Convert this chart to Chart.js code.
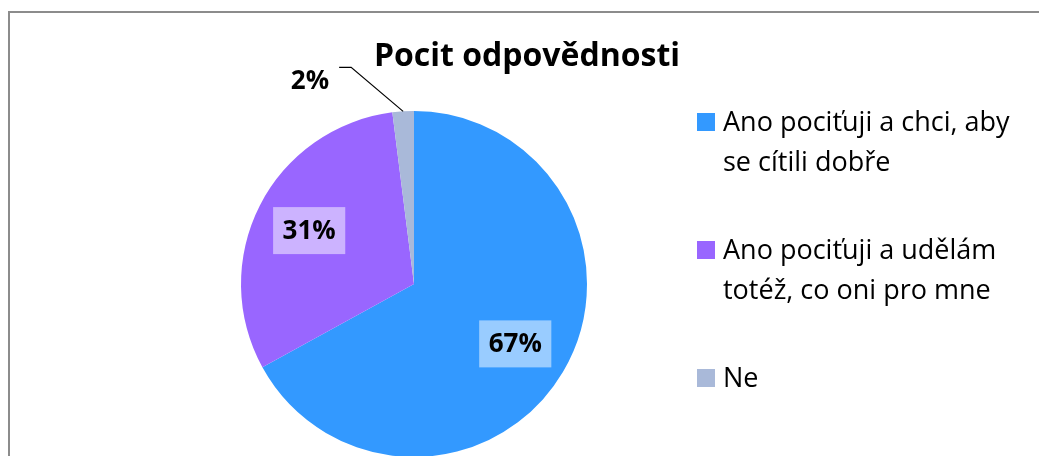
<!DOCTYPE html>
<html>
<head>
<meta charset="utf-8">
<script src="https://cdn.jsdelivr.net/npm/chart.js@4"></script>
<style>
  html, body { margin: 0; padding: 0; background: #fff; }
  #wrap { width: 1039px; height: 456px; position: relative; }
</style>
</head>
<body>
<div id="wrap"><canvas id="pie" width="1039" height="456"></canvas></div>
<script>
const TITLE = "Pocit odpovědnosti";
const CATEGORIES = ["Ano pociťuji a chci, aby se cítili dobře", "Ano pociťuji a udělám totéž, co oni pro mne", "Ne"];
const VALUES = [67, 31, 2];
const COLORS = ["#3399ff", "#9966ff", "#a9b9d9"];
const LABEL_BOXES = ["#99ccff", "#ccb3ff", null];

const FONT = "'Open Sans', Lato, sans-serif";

function wrapText(ctx, text, maxWidth) {
  const words = text.split(" ");
  const lines = [];
  let line = "";
  for (const w of words) {
    const test = line ? line + " " + w : w;
    if (line && ctx.measureText(test).width > maxWidth) {
      lines.push(line);
      line = w;
    } else {
      line = test;
    }
  }
  if (line) lines.push(line);
  return lines;
}

// frame, title, value labels and the wrapped legend are all painted here
const decorations = {
  id: "decorations",
  beforeDraw(chart) {
    const ctx = chart.ctx;
    ctx.save();
    ctx.strokeStyle = "#8c8c8c";
    ctx.lineWidth = 2;
    ctx.strokeRect(9, 12, 1100, 500);
    ctx.restore();
  },
  afterDraw(chart) {
    const ctx = chart.ctx;
    const meta = chart.getDatasetMeta(0);
    const total = VALUES.reduce((a, b) => a + b, 0);
    ctx.save();

    ctx.fillStyle = "#000";
    ctx.font = `bold 32px ${FONT}`;
    ctx.textAlign = "center";
    ctx.textBaseline = "middle";
    ctx.fillText(TITLE, 527, 57);

    ctx.font = `bold 26px ${FONT}`;
    meta.data.forEach((arc, i) => {
      const text = Math.round(VALUES[i] / total * 100) + "%";
      const mid = (arc.startAngle + arc.endAngle) / 2;
      if (LABEL_BOXES[i]) {
        const r = arc.outerRadius * 0.68;
        const x = arc.x + Math.cos(mid) * r;
        const y = arc.y + Math.sin(mid) * r;
        const w = ctx.measureText(text).width + 19;
        ctx.fillStyle = LABEL_BOXES[i];
        ctx.fillRect(x - w / 2, y - 23.5, w, 47);
        ctx.fillStyle = "#000";
        ctx.textAlign = "center";
        ctx.fillText(text, x, y + 1);
      } else {
        // small slice: label outside with a leader line
        const px = arc.x + Math.cos(mid) * arc.outerRadius;
        const py = arc.y + Math.sin(mid) * arc.outerRadius;
        const ex = px - 52, ey = py - 44;
        ctx.strokeStyle = "#000";
        ctx.lineWidth = 1.2;
        ctx.beginPath();
        ctx.moveTo(px, py);
        ctx.lineTo(ex, ey);
        ctx.lineTo(ex - 12, ey);
        ctx.stroke();
        ctx.fillStyle = "#000";
        ctx.textAlign = "right";
        ctx.fillText(text, ex - 22, ey + 14);
      }
    });

    ctx.font = `27px ${FONT}`;
    ctx.textAlign = "left";
    let y = 122;
    CATEGORIES.forEach((label, i) => {
      ctx.fillStyle = COLORS[i];
      ctx.fillRect(697, y - 9, 18, 18);
      ctx.fillStyle = "#000";
      const lines = wrapText(ctx, label, 292);
      lines.forEach((ln, k) => ctx.fillText(ln, 723, y + k * 40 + 1));
      y += lines.length * 40 + 48;
    });
    ctx.restore();
  },
};

new Chart(document.getElementById("pie"), {
  type: "pie",
  data: {
    labels: CATEGORIES,
    datasets: [{
      data: VALUES,
      backgroundColor: COLORS,
      borderWidth: 0,
      radius: 173,
    }],
  },
  options: {
    responsive: false,
    animation: false,
    layout: { padding: { left: 0, right: 211, top: 112, bottom: 0 } },
    plugins: {
      legend: { display: false },
      tooltip: { enabled: false },
      title: { display: false },
    },
  },
  plugins: [decorations],
});
</script>
</body>
</html>
